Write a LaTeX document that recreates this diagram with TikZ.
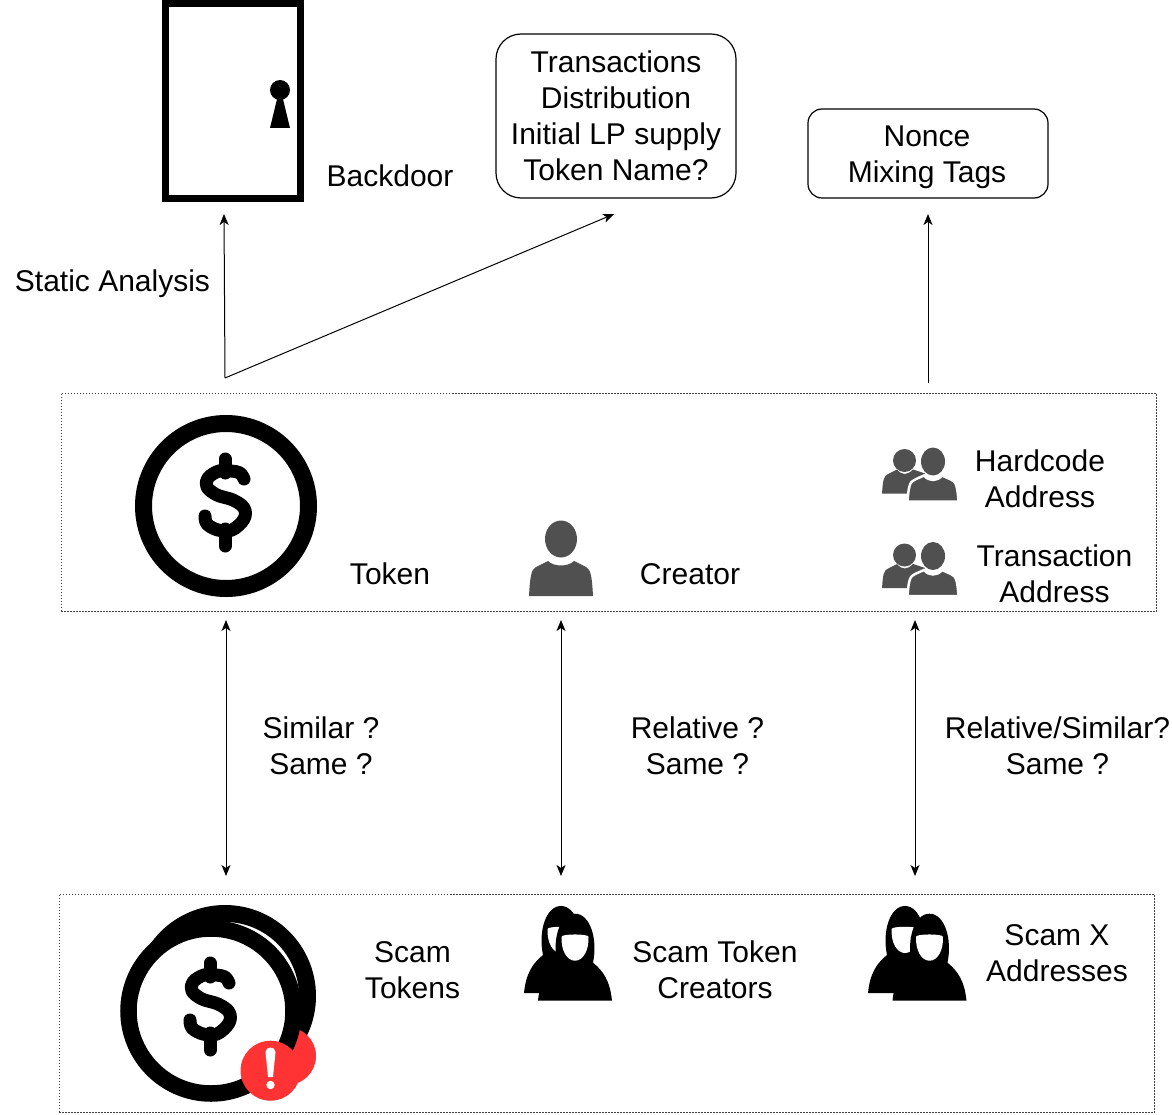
\documentclass[tikz,border=0pt]{standalone}
\usepackage{fontspec}
\setmainfont{Liberation Sans}
\usetikzlibrary{arrows.meta}
\definecolor{iconpeople}{HTML}{505050}
\definecolor{alertred}{HTML}{FF3333}
\tikzset{
  dotbox/.style={draw=black!75,line width=1pt,dash pattern=on 1.5pt off 1.5pt,minimum width=1095pt,minimum height=218.5pt,inner sep=0pt},
  roundbox/.style={draw=black,line width=1.2pt,minimum width=240pt,align=center,inner sep=0pt},
  label/.style={align=center,inner sep=0pt},
  link/.style={line width=1pt,-{Stealth[length=11pt,width=9pt,inset=3pt]}},
  duallink/.style={line width=1pt,{Stealth[length=11pt,width=9pt,inset=3pt]}-{Stealth[length=11pt,width=9pt,inset=3pt]}},
  dollar/.pic={
    \draw [line width=13pt,line cap=round,line join=round] plot [smooth,tension=0.6] coordinates {(19,-24) (15,-30) (6,-32) (-6,-32) (-17,-25) (-18,-16) (-8,-8) (8,-3) (19,5) (19,16) (7,27) (-7,27) (-18,21) (-20,13)};
    \draw [line width=13pt,line cap=round] (0,-44) -- (0,-30);
    \draw [line width=13pt,line cap=round] (0,26) -- (0,43);
  },
  person/.pic={
    \fill [iconpeople] (0,-57) ellipse [x radius=16,y radius=18.5];
    \fill [iconpeople] (-32,0) .. controls (-31,-18) and (-30,-27) .. (-25,-29) -- (-13,-35) .. controls (-7,-29) and (7,-29) .. (13,-35) -- (25,-29) .. controls (30,-27) and (31,-18) .. (32,0) -- cycle;
  },
  people/.pic={
    \fill [iconpeople] (-28.5,-41) circle [radius=11.5];
    \fill [iconpeople] (-51,-8) .. controls (-50,-20) and (-50,-26) .. (-44,-28) -- (-36,-32) .. controls (-31,-26) and (-26,-26) .. (-20,-32) -- (-8,-28) -- (-20,-8) -- cycle;
    \fill [iconpeople] (0,-40) ellipse [x radius=12,y radius=14];
    \fill [iconpeople,draw=white,line width=2.5pt] (-25.5,0) .. controls (-24.5,-14) and (-23.5,-20) .. (-18,-22) -- (-9,-26) .. controls (-4,-20) and (4,-20) .. (9,-26) -- (18,-22) .. controls (23.5,-20) and (24.5,-14) .. (25.5,0) -- cycle;
    \fill [white] (-27,0.5) rectangle (27,3);
  },
  hoodie/.pic={
    \fill [black] (-37,0) .. controls (-35,-20) and (-28,-30) .. (-18,-38) .. controls (-23,-62) and (-15,-87) .. (0,-87) .. controls (15,-87) and (23,-62) .. (18,-38) .. controls (28,-30) and (35,-20) .. (37,0) -- cycle;
    \fill [white] (-13.5,-64) .. controls (-13,-67) and (13,-67) .. (13.5,-64) .. controls (14,-50) and (8,-40) .. (0,-40) .. controls (-8,-40) and (-14,-50) .. (-13.5,-64) -- cycle;
  },
}
\begin{document}
\begin{tikzpicture}[x=1pt,y=-1pt,every node/.append style={font=\fontsize{30}{36}\selectfont}]
\useasboundingbox (0,0) rectangle (1172,1115);
\node (tokenbox) [dotbox] at (608.5,502.5) {};
\node (scambox) [dotbox] at (606.5,1003.5) {};

\draw [line width=7pt] (165.5,3.5) rectangle (300.5,198.5);
\fill (280,90) circle [radius=10];
\fill (277.3,98) -- (282.7,98) -- (290,128) -- (270,128) -- cycle;
\node (backdoor) [label] at (390,176) {Backdoor};
\node (infobox) [roundbox,minimum height=164pt,rounded corners=25pt] at (616,116) {Transactions\\Distribution\\Initial LP supply\\Token Name?};
\node (mixbox) [roundbox,minimum height=89pt,rounded corners=14pt] at (928,153.5) {};
\node (mixlabel) [label] at (927,157.5) {Nonce\\Mixing Tags};

\coordinate (fork) at (225,378);
\coordinate (doorend) at (224,214);
\coordinate (infoend) at (614,214);
\coordinate (mixstart) at (928,383);
\coordinate (mixend) at (928,214);
\draw [link] (fork) -- (doorend);
\draw [link] (fork) -- (infoend);
\draw [link] (mixstart) -- (mixend);
\node (static) [label] at (112.5,284) {Static Analysis};

\draw [line width=17pt] (226,506) circle [radius=82.5];
\pic at (225,503) {dollar};
\node (token) [label] at (390,574) {Token};
\pic at (561,596) {person};
\node (creator) [label] at (690,574) {Creator};
\pic at (933,501.5) {people};
\pic at (933,596) {people};
\node (hardcode) [label] at (1040,479) {Hardcode\\Address};
\node (transaction) [label] at (1054.5,574) {Transaction\\Address};

\coordinate (tokentop) at (226,620);
\coordinate (tokenlow) at (226,876);
\coordinate (creatortop) at (561,620);
\coordinate (creatorlow) at (561,876);
\coordinate (addrtop) at (915,620);
\coordinate (addrlow) at (915,876);
\draw [duallink] (tokentop) -- (tokenlow);
\draw [duallink] (creatortop) -- (creatorlow);
\draw [duallink] (addrtop) -- (addrlow);
\node (similar) [label] at (321,746) {Similar ?\\Same ?};
\node (relative) [label] at (697.5,746) {Relative ?\\Same ?};
\node (relsimilar) [label] at (1057.5,746) {Relative/Similar?\\Same ?};

\draw [line width=17pt] (225,996) circle [radius=82.5];
\fill [alertred] (287,1056) circle [radius=29];
\fill [white] (211,1011) circle [radius=82.5];
\draw [line width=16.5pt] (211,1011) circle [radius=82.5];
\pic at (210,1007) {dollar};
\fill [alertred] (270.5,1070.7) circle [radius=30];
\fill [white] (265.5,1052) .. controls (265.5,1046) and (275.5,1046) .. (275.5,1052) -- (273,1077) -- (268,1077) -- cycle;
\fill [white] (270.5,1085) circle [radius=4.2];
\node (scamtokens) [label] at (412.5,970) {Scam\\Tokens};

\pic at (561,993) {hoodie};
\pic at (575,1000.7) {hoodie};
\node (scamcreators) [label] at (715,970) {Scam Token\\Creators};
\pic at (905,993) {hoodie};
\pic at (929.5,1000.7) {hoodie};
\node (scamaddr) [label] at (1057,953) {Scam X\\Addresses};
\end{tikzpicture}
\end{document}
